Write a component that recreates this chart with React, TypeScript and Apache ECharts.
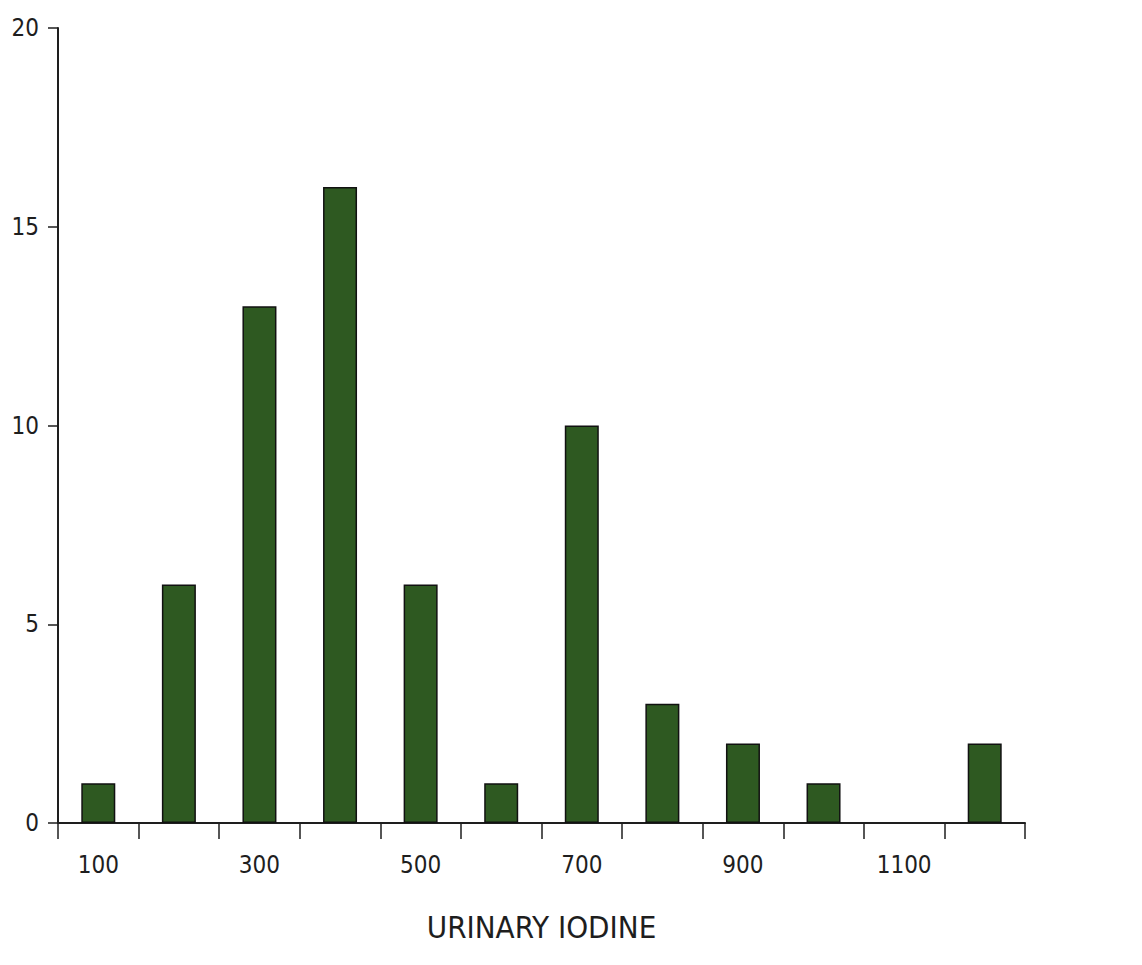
import React, { useEffect, useRef } from "react";
import * as echarts from "echarts";

// Urinary iodine histogram: bin centres and counts
const categories: string[] = ["100", "200", "300", "400", "500", "600", "700", "800", "900", "1000", "1100", "1200"];
const counts: number[] = [1, 6, 13, 16, 6, 1, 10, 3, 2, 1, 0, 2];
const yTicks = { min: 0, max: 20, interval: 5 };
const axisTitle = "URINARY IODINE";

const FONT = "'DejaVu Sans Condensed', 'DejaVu Sans', sans-serif";
const INK = "#1e1e1e";

export default function App() {
  const ref = useRef<HTMLDivElement>(null);

  useEffect(() => {
    if (!ref.current) return;
    const chart = echarts.init(ref.current, null, { renderer: "svg" });
    chart.setOption({
      animation: false,
      backgroundColor: "#ffffff",
      grid: { left: 58, right: 117, top: 28, bottom: 142, containLabel: false },
      xAxis: {
        type: "category",
        data: categories,
        boundaryGap: true,
        name: axisTitle,
        nameLocation: "middle",
        nameGap: 88,
        nameTextStyle: { fontFamily: FONT, fontSize: 31, color: INK },
        axisLine: { show: true, lineStyle: { color: INK, width: 2 } },
        axisTick: { show: true, length: 16, interval: 0, lineStyle: { color: INK, width: 1.5 } },
        axisLabel: { interval: 1, margin: 30, fontFamily: FONT, fontSize: 24, color: INK },
        splitLine: { show: false },
      },
      yAxis: {
        type: "value",
        min: yTicks.min,
        max: yTicks.max,
        interval: yTicks.interval,
        axisLine: { show: true, lineStyle: { color: INK, width: 2 } },
        axisTick: { show: true, length: 10, lineStyle: { color: INK, width: 1.5 } },
        axisLabel: { margin: 19, fontFamily: FONT, fontSize: 24, color: INK },
        splitLine: { show: false },
      },
      series: [
        {
          type: "bar",
          // empty bins get no outline so nothing shows on the axis
          data: counts.map((v) => (v === 0 ? { value: v, itemStyle: { borderWidth: 0, opacity: 0 } } : v)),
          barWidth: 34,
          itemStyle: { color: "#2e5921", borderColor: "#111", borderWidth: 1.5 },
        },
      ],
    });
    return () => chart.dispose();
  }, []);

  return (
    <div
      ref={ref}
      style={{ position: "fixed", left: 0, top: 0, width: 1142, height: 965 }}
    />
  );
}
